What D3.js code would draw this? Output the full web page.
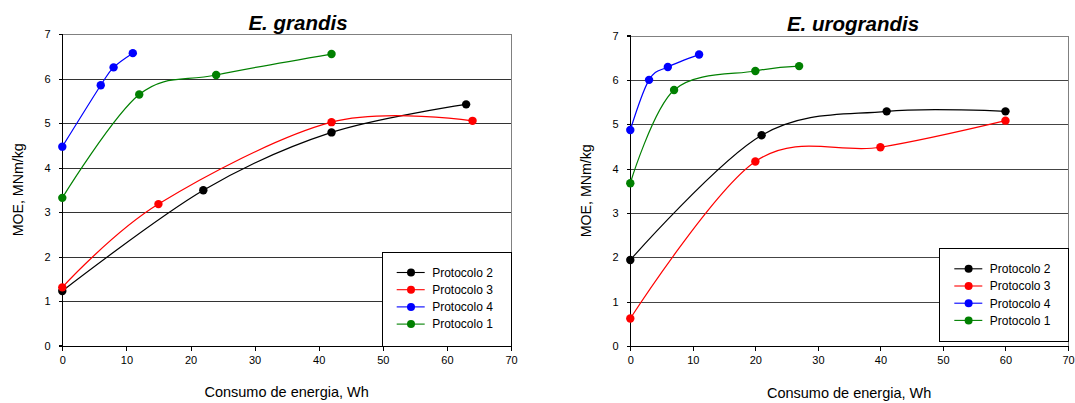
<!DOCTYPE html>
<html><head><meta charset="utf-8">
<script src="https://cdn.jsdelivr.net/npm/d3@7"></script>
<style>
html,body{margin:0;padding:0;background:#fff;}
svg{display:block;font-family:"Liberation Sans",Arial,sans-serif;}
</style></head>
<body><svg id="c" width="1075" height="403"></svg>
<script>
// ---- data ----
const xTicks = [0,10,20,30,40,50,60,70];
const yTicks = [0,1,2,3,4,5,6,7];
const seriesNames = ["Protocolo 2","Protocolo 3","Protocolo 4","Protocolo 1"];
const seriesColors = ["#000000","#ff0000","#0000ff","#008000"];
const titles = ["E. grandis","E. urograndis"];
const xLabel = "Consumo de energia, Wh";
const yLabel = "MOE, MNm/kg";

const grandisP2 = [[0,1.23],[22,3.49],[42,4.79],[63,5.42]];
const grandisP3 = [[0,1.31],[15,3.18],[42,5.02],[64,5.05]];
const grandisP4 = [[0,4.47],[6,5.85],[8,6.25],[11,6.57]];
const grandisP1 = [[0,3.32],[12,5.64],[24,6.08],[42,6.55]];

const urograndisP2 = [[0,1.94],[21,4.75],[41,5.29],[60,5.29]];
const urograndisP3 = [[0,0.62],[20,4.16],[40,4.48],[60,5.08]];
const urograndisP4 = [[0,4.87],[3,6.00],[6,6.29],[11,6.57]];
const urograndisP1 = [[0,3.67],[7,5.77],[20,6.20],[27,6.31]];

// ---- layout ----
const panels = [
  {title:titles[0], series:[grandisP2,grandisP3,grandisP4,grandisP1],
   x0:62.3, x1:511, yTop:34, yBot:345.7, titleX:298, titleY:30, yLabX:23, xLabY:397,
   leg:{x:381.7,y:252,w:129.3,h:93.7}, gridColor:"#333"},
  {title:titles[1], series:[urograndisP2,urograndisP3,urograndisP4,urograndisP1],
   x0:630.3, x1:1068, yTop:35.5, yBot:346, titleX:853, titleY:31, yLabX:591, xLabY:398,
   leg:{x:939.3,y:248.3,w:128.7,h:93}, gridColor:"#444"}
];

const svg = d3.select("#c");

panels.forEach(p => {
  const g = svg.append("g");
  const x = d3.scaleLinear().domain([0,70]).range([p.x0,p.x1]);
  const y = d3.scaleLinear().domain([0,7]).range([p.yBot,p.yTop]);

  // gridlines
  g.append("g").selectAll("line").data(yTicks.filter(v=>v>0 && v<7)).join("line")
    .attr("x1",p.x0).attr("x2",p.x1)
    .attr("y1",d=>Math.round(y(d))+0.5).attr("y2",d=>Math.round(y(d))+0.5)
    .attr("stroke",p.gridColor).attr("stroke-width",1).attr("shape-rendering","crispEdges");
  // top & right border
  g.append("line").attr("x1",p.x0).attr("x2",p.x1)
    .attr("y1",Math.round(y(7))+0.5).attr("y2",Math.round(y(7))+0.5)
    .attr("stroke","#808080").attr("shape-rendering","crispEdges");
  g.append("line").attr("x1",Math.round(p.x1)+0.5).attr("x2",Math.round(p.x1)+0.5)
    .attr("y1",p.yTop).attr("y2",p.yBot)
    .attr("stroke","#808080").attr("shape-rendering","crispEdges");

  // axes
  const xAxis = d3.axisBottom(x).tickValues(xTicks).tickSize(4).tickPadding(6).tickFormat(d3.format("d"));
  const yAxis = d3.axisLeft(y).tickValues(yTicks).tickSize(4).tickPadding(8).tickFormat(d3.format("d"));
  const gx = g.append("g").attr("transform",`translate(0,${Math.round(p.yBot)+0.5})`).call(xAxis);
  const gy = g.append("g").attr("transform",`translate(${Math.round(p.x0)+0.5},0)`).call(yAxis);
  [gx,gy].forEach(a=>{
    a.select(".domain").attr("stroke","#000").attr("shape-rendering","crispEdges");
    a.selectAll(".tick line").attr("stroke","#000").attr("shape-rendering","crispEdges");
    a.selectAll(".tick text").attr("fill","#000").attr("font-size","11px")
      .attr("font-family","'Liberation Sans',Arial,sans-serif");
  });
  gy.select(".domain").attr("d",`M-4,${y(7)}H0V${y(0)}H-4`);
  gx.select(".domain").attr("d",`M${x(0)},4V0H${x(70)}V4`);

  // legend box
  const L = p.leg;
  g.append("rect").attr("x",Math.round(L.x)+0.5).attr("y",Math.round(L.y)+0.5)
    .attr("width",L.w).attr("height",L.h)
    .attr("fill","#fff").attr("stroke","#000").attr("shape-rendering","crispEdges");

  // series
  const line = d3.line().x(d=>x(d[0])).y(d=>y(d[1])).curve(d3.curveCardinal.tension(0));
  p.series.forEach((s,i)=>{
    g.append("path").attr("d",line(s)).attr("fill","none")
      .attr("stroke",seriesColors[i]).attr("stroke-width",1.2);
  });
  p.series.forEach((s,i)=>{
    g.append("g").selectAll("circle").data(s).join("circle")
      .attr("cx",d=>x(d[0])).attr("cy",d=>y(d[1])).attr("r",4.2)
      .attr("fill",seriesColors[i]);
  });

  // legend items
  seriesNames.forEach((n,i)=>{
    const yy = L.y + 20.5 + i*17.2;
    g.append("line").attr("x1",L.x+15).attr("x2",L.x+43).attr("y1",yy).attr("y2",yy)
      .attr("stroke",seriesColors[i]).attr("stroke-width",1.1);
    g.append("circle").attr("cx",L.x+29.3).attr("cy",yy).attr("r",4).attr("fill",seriesColors[i]);
    g.append("text").attr("x",L.x+50.5).attr("y",yy+4.3).attr("font-size","12px")
      .attr("fill","#000").text(n);
  });

  // titles
  g.append("text").attr("x",p.titleX).attr("y",p.titleY).attr("text-anchor","middle")
    .attr("font-size","20.5px").attr("font-weight","bold").attr("font-style","italic")
    .attr("fill","#000").text(p.title);
  g.append("text").attr("x",(p.x0+p.x1)/2).attr("y",p.xLabY).attr("text-anchor","middle")
    .attr("font-size","14.5px").attr("fill","#000").text(xLabel);
  g.append("text").attr("transform",`translate(${p.yLabX},${(p.yTop+p.yBot)/2}) rotate(-90)`)
    .attr("text-anchor","middle").attr("font-size","14.2px").attr("fill","#000").text(yLabel);
});
</script>
</body></html>
